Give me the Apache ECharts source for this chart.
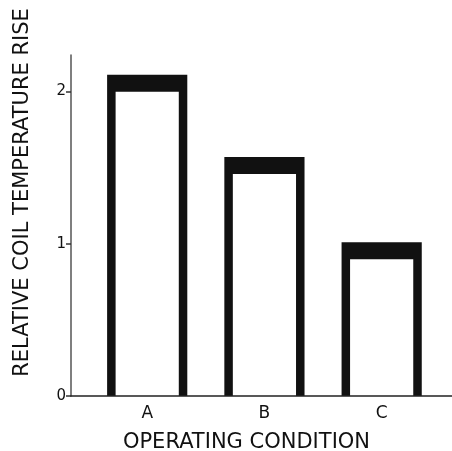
<!DOCTYPE html>
<html>
<head>
<meta charset="utf-8">
<script src="https://cdn.jsdelivr.net/npm/echarts@6/dist/echarts.min.js"></script>
<style>
  html, body { margin: 0; padding: 0; background: #fff; }
  #chart { width: 452px; height: 451px; }
</style>
</head>
<body>
<div id="chart"></div>
<script>
const categories = ['A', 'B', 'C'];
const values = [2.11, 1.57, 1.01];
const yTickLabels = ['0', '1', '2'];
const xTitle = 'OPERATING CONDITION';
const yTitle = 'RELATIVE COIL TEMPERATURE RISE';

const chart = echarts.init(document.getElementById('chart'), null, { renderer: 'canvas' });
const FONT = 'DejaVu Sans';

const option = {
  backgroundColor: '#ffffff',
  animation: false,
  grid: { left: 71, right: 0, top: 55, bottom: 55, containLabel: false, outerBoundsMode: 'none' },
  xAxis: {
    type: 'value',
    min: -0.65,
    max: 2.6,
    z: 10,
    axisLine: { show: true, onZero: false, lineStyle: { color: '#222', width: 1.5 } },
    axisTick: { show: false },
    axisLabel: { show: false },
    splitLine: { show: false },
    name: xTitle,
    nameLocation: 'middle',
    nameGap: 36,
    nameTextStyle: { fontFamily: FONT, fontSize: 21, color: '#111', padding: [0, 30, 0, 0] }
  },
  yAxis: {
    type: 'value',
    min: 0,
    max: 2.24,
    interval: 1,
    axisLine: { show: true, onZero: false, lineStyle: { color: '#555', width: 1.5 } },
    axisTick: { show: true, length: 5, lineStyle: { color: '#333', width: 1.5 } },
    axisLabel: {
      fontFamily: FONT, fontSize: 15, color: '#111', margin: 5, showMaxLabel: false,
      formatter: function (v) { return Number.isInteger(v) ? (yTickLabels[v] ?? '') : ''; }
    },
    splitLine: { show: false },
    name: yTitle,
    nameLocation: 'middle',
    nameGap: 38,
    nameTextStyle: { fontFamily: FONT, fontSize: 21, color: '#111', padding: [0, 0, 0, 66] }
  },
  series: [{
    type: 'custom',
    data: values.map(function (v, i) { return [i, v]; }),
    renderItem: function (params, api) {
      const i = api.value(0);
      const v = api.value(1);
      const top = api.coord([i, v]);
      const base = api.coord([i, 0]);
      const w = api.size([0.684, 0])[0];
      const side = 8.5, cap = 17;
      return {
        type: 'group',
        children: [
          { type: 'rect', shape: { x: top[0] - w / 2, y: top[1], width: w, height: base[1] - top[1] }, style: { fill: '#111' } },
          { type: 'rect', shape: { x: top[0] - w / 2 + side, y: top[1] + cap, width: w - 2 * side, height: base[1] - top[1] - cap }, style: { fill: '#fff' } },
          { type: 'text', x: base[0], y: base[1] + 9, style: { text: categories[i], fill: '#111', fontFamily: FONT, fontSize: 17, align: 'center', verticalAlign: 'top' } }
        ]
      };
    }
  }]
};
chart.setOption(option);
</script>
</body>
</html>
